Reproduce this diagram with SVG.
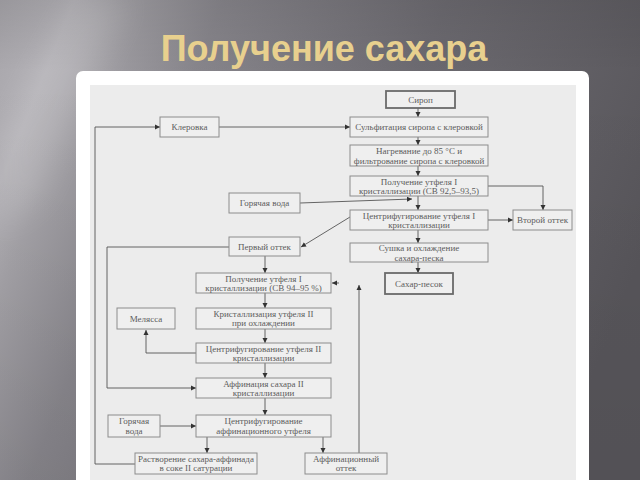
<svg xmlns="http://www.w3.org/2000/svg" width="640" height="480" viewBox="0 0 640 480">
<defs>
<linearGradient id="bg" x1="0" y1="0" x2="640" y2="260" gradientUnits="userSpaceOnUse">
<stop offset="0" stop-color="#a6a4a9"/>
<stop offset="0.1" stop-color="#b3b1b6"/>
<stop offset="0.16" stop-color="#a3a1a6"/>
<stop offset="0.3" stop-color="#87858b"/>
<stop offset="0.6" stop-color="#6c6a70"/>
<stop offset="1" stop-color="#57555a"/>
</linearGradient>
<linearGradient id="vshade" x1="0" y1="0" x2="0" y2="1">
<stop offset="0" stop-color="#000" stop-opacity="0.08"/>
<stop offset="0.15" stop-color="#000" stop-opacity="0"/>
<stop offset="1" stop-color="#000" stop-opacity="0.05"/>
</linearGradient>
<filter id="blur" x="-50%" y="-50%" width="200%" height="200%"><feGaussianBlur stdDeviation="14"/></filter>
<marker id="ah" markerWidth="6" markerHeight="6" refX="5" refY="3" orient="auto" markerUnits="userSpaceOnUse">
<path d="M0,0.5 L5,3 L0,5.5 Z" fill="#333"/>
</marker>
<style>
.box{fill:#efefef;stroke:#8c8c8c;stroke-width:1}
.thick{fill:#efefef;stroke:#6a6a6a;stroke-width:1.8}
.t{font-family:"Liberation Serif","Times New Roman",serif;font-size:9px;fill:#5c5c5c;text-anchor:middle}
.c{fill:none;stroke:#555;stroke-width:0.9;marker-end:url(#ah)}
</style>
</defs>
<rect x="0" y="0" width="640" height="480" fill="url(#bg)"/>
<polygon points="75,0 130,0 40,200 0,230 0,140" fill="#ffffff" opacity="0.12" filter="url(#blur)"/>
<rect x="0" y="0" width="640" height="480" fill="url(#vshade)"/>
<text x="324" y="61" font-family="'Liberation Sans',Arial,sans-serif" font-weight="bold" font-size="36" fill="#e8d08e" text-anchor="middle">Получение сахара</text>
<rect x="76" y="71" width="513" height="430" rx="7" fill="#ffffff"/>
<rect x="90" y="85" width="486" height="410" fill="#ececec"/>

<g id="connectors">
<path class="c" d="M418,108 V117"/>
<path class="c" d="M219,127 H350"/>
<path class="c" d="M135,464 H95 V127 H160"/>
<path class="c" d="M418,137 V145"/>
<path class="c" d="M418,166 V176"/>
<path class="c" d="M418,196 V210"/>
<path class="c" d="M488,186 H543 V210"/>
<path class="c" d="M300,203 L412,199"/>
<path class="c" d="M488,220 H513"/>
<path class="c" d="M350,217 L301,247"/>
<path class="c" d="M418,230 V243"/>
<path class="c" d="M418,262 V273"/>
<path class="c" d="M265,256 V273"/>
<path class="c" d="M229,247 H107 V388 H196"/>
<path class="c" d="M339,283 H332"/>
<path class="c" d="M359,453 V285"/>
<path class="c" d="M265,293 V308"/>
<path class="c" d="M265,329 V343"/>
<path class="c" d="M196,353 H146 V330"/>
<path class="c" d="M265,363 V378"/>
<path class="c" d="M265,398 V415"/>
<path class="c" d="M160,426 H196"/>
<path class="c" d="M207,437 V453"/>
<path class="c" d="M323,437 V453"/>
</g>

<g id="n_sirop"><rect class="thick" x="386" y="91" width="69" height="17"/><text class="t" x="420.5" y="102.5">Сироп</text></g>
<g id="n_sulf"><rect class="box" x="350" y="117" width="138" height="20"/><text class="t" x="419" y="130">Сульфитация сиропа с клеровкой</text></g>
<g id="n_kler"><rect class="box" x="160" y="117" width="59" height="20"/><text class="t" x="189.5" y="130">Клеровка</text></g>
<g id="n_nagr"><rect class="box" x="350" y="145" width="138" height="21"/><text class="t" x="419" y="154">Нагревание до 85 °С и</text><text class="t" x="419" y="163.5">фильтрование сиропа с клеровкой</text></g>
<g id="n_utf1"><rect class="box" x="350" y="176" width="138" height="20"/><text class="t" x="419" y="184.5">Получение утфеля I</text><text class="t" x="419" y="194">кристаллизации (СВ 92,5–93,5)</text></g>
<g id="n_voda1"><rect class="box" x="229" y="193" width="71" height="20"/><text class="t" x="264.5" y="206">Горячая вода</text></g>
<g id="n_centr1"><rect class="box" x="350" y="210" width="138" height="20"/><text class="t" x="419" y="218.5">Центрифугирование утфеля I</text><text class="t" x="419" y="228">кристаллизации</text></g>
<g id="n_ottek2"><rect class="box" x="513" y="210" width="59" height="20"/><text class="t" x="542.5" y="223">Второй оттек</text></g>
<g id="n_sush"><rect class="box" x="350" y="243" width="138" height="19"/><text class="t" x="419" y="251">Сушка и охлаждение</text><text class="t" x="419" y="260.5">сахара-песка</text></g>
<g id="n_sahar"><rect class="thick" x="385" y="273" width="68" height="21"/><text class="t" x="419" y="286.5">Сахар-песок</text></g>
<g id="n_ottek1"><rect class="box" x="229" y="237" width="71" height="19"/><text class="t" x="264.5" y="249.5">Первый оттек</text></g>
<g id="n_utf2"><rect class="box" x="196" y="273" width="135" height="20"/><text class="t" x="263.5" y="281.5">Получение утфеля I</text><text class="t" x="263.5" y="291">кристаллизации (СВ 94–95 %)</text></g>
<g id="n_mel"><rect class="box" x="117" y="308" width="58" height="21"/><text class="t" x="146" y="321.5">Мелясса</text></g>
<g id="n_krist"><rect class="box" x="196" y="308" width="135" height="21"/><text class="t" x="263.5" y="316.5">Кристаллизация утфеля II</text><text class="t" x="263.5" y="326">при охлаждении</text></g>
<g id="n_centr2"><rect class="box" x="196" y="343" width="135" height="20"/><text class="t" x="263.5" y="351.5">Центрифугирование утфеля II</text><text class="t" x="263.5" y="361">кристаллизации</text></g>
<g id="n_aff"><rect class="box" x="196" y="378" width="135" height="20"/><text class="t" x="263.5" y="386.5">Аффинация сахара II</text><text class="t" x="263.5" y="396">кристаллизации</text></g>
<g id="n_voda2"><rect class="box" x="108" y="415" width="52" height="22"/><text class="t" x="134" y="424">Горячая</text><text class="t" x="134" y="433.5">вода</text></g>
<g id="n_centr3"><rect class="box" x="196" y="415" width="135" height="22"/><text class="t" x="263.5" y="424">Центрифугирование</text><text class="t" x="263.5" y="433.5">аффинационного утфеля</text></g>
<g id="n_rastv"><rect class="box" x="135" y="453" width="122" height="21"/><text class="t" x="196" y="461.5">Растворение сахара-аффинада</text><text class="t" x="196" y="471">в соке II сатурации</text></g>
<g id="n_affott"><rect class="box" x="305" y="453" width="82" height="21"/><text class="t" x="346" y="461.5">Аффинационный</text><text class="t" x="346" y="471">оттек</text></g>
</svg>
